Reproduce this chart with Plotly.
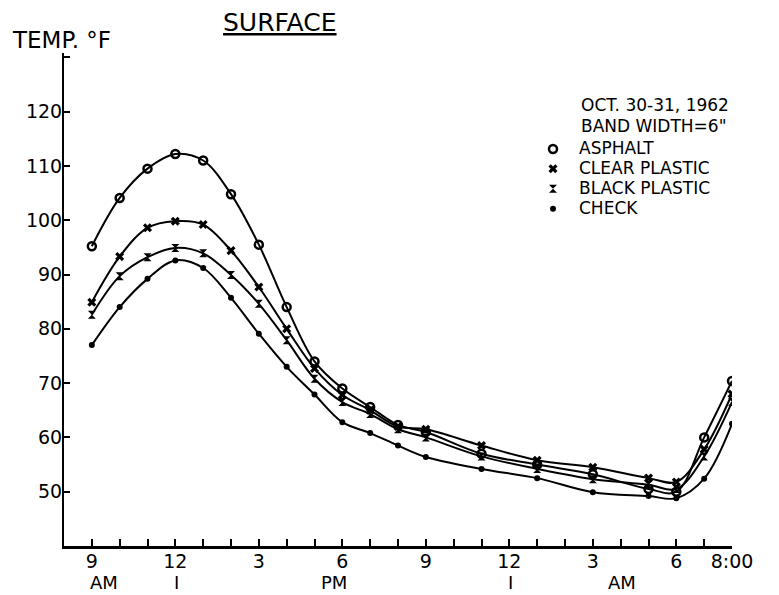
import plotly.graph_objects as go

hours = [9, 10, 11, 12, 13, 14, 15, 16, 17, 18, 19, 20, 21, 23, 25, 27, 29, 30, 31, 32]
asphalt = [95.2, 104.1, 109.5, 112.2, 111.0, 104.8, 95.5, 84.0, 74.0, 69.0, 65.6, 62.3, 61.0, 57.0, 55.0, 53.2, 50.5, 50.0, 60.0, 70.4]
clear_plastic = [84.9, 93.3, 98.6, 99.8, 99.2, 94.4, 87.7, 80.0, 72.7, 67.8, 65.0, 62.0, 61.5, 58.5, 55.8, 54.5, 52.5, 51.8, 57.8, 68.0]
black_plastic = [82.6, 89.7, 93.2, 94.9, 93.9, 89.9, 84.6, 77.9, 70.8, 66.5, 64.3, 61.5, 60.0, 56.5, 54.2, 52.3, 51.3, 50.5, 56.5, 66.5]
check = [77.0, 84.0, 89.2, 92.6, 91.2, 85.7, 79.1, 73.0, 67.9, 62.8, 60.8, 58.5, 56.4, 54.2, 52.5, 49.9, 49.2, 48.8, 52.4, 62.5]

series_names = ["ASPHALT", "CLEAR PLASTIC", "BLACK PLASTIC", "CHECK"]

x_tickvals = list(range(9, 33))
x_labels = {9: "9", 12: "12", 15: "3", 18: "6", 21: "9", 24: "12", 27: "3", 30: "6", 32: "8:00"}
x_ticktext = [x_labels.get(h, "") for h in x_tickvals]
y_tickvals = [50, 60, 70, 80, 90, 100, 110, 120, 130]
y_ticktext = ["50", "60", "70", "80", "90", "100", "110", "120", ""]

second_row = [(9.45, "AM"), (12.05, "I"), (17.7, "PM"), (24.05, "I"), (28.05, "AM")]

FONT = "DejaVu Sans"
markers = [
    dict(symbol="circle-open", size=8, color="black", line=dict(width=2.5, color="black")),
    dict(symbol="x", size=8, color="black", line=dict(width=0)),
    dict(symbol="hourglass", size=8, color="black", line=dict(width=0)),
    dict(symbol="circle", size=6, color="black", line=dict(width=0)),
]

fig = go.Figure()
for name, vals, mk in zip(series_names, [asphalt, clear_plastic, black_plastic, check], markers):
    fig.add_trace(go.Scatter(
        x=hours, y=vals, mode="lines+markers", name=name, showlegend=False,
        line=dict(color="black", width=2, shape="spline", smoothing=1.0),
        marker=mk,
    ))
for name, mk in zip(series_names, markers):
    fig.add_trace(go.Scatter(x=[None], y=[None], mode="markers",
                             name='<span style="font-size:17px">' + name + '</span>',
                             marker=mk, showlegend=True))

annotations = [
    dict(text="TEMP. °F", xref="paper", yref="paper", x=(10 - 64) / 668, y=(546 - 40) / 493,
         xanchor="left", yanchor="middle", showarrow=False, font=dict(size=23, family=FONT, color="black")),
    dict(text="<u>SURFACE</u>", xref="paper", yref="paper", x=(280 - 64) / 668, y=(546 - 22) / 493,
         xanchor="center", yanchor="middle", showarrow=False, font=dict(size=25, family=FONT, color="black")),
    dict(text="OCT. 30-31, 1962", xref="paper", yref="paper", x=(579 - 64) / 668, y=(546 - 105) / 493,
         xanchor="left", yanchor="middle", showarrow=False, font=dict(size=17, family=FONT, color="black")),
    dict(text="BAND WIDTH=6\"", xref="paper", yref="paper", x=(579 - 64) / 668, y=(546 - 126) / 493,
         xanchor="left", yanchor="middle", showarrow=False, font=dict(size=17, family=FONT, color="black")),
]
for xv, t in second_row:
    annotations.append(dict(text=t, xref="x", yref="paper", x=xv, y=0, yshift=-36,
                            xanchor="center", yanchor="middle", showarrow=False,
                            font=dict(size=18, family=FONT, color="black")))

fig.update_layout(
    width=771, height=587,
    margin=dict(l=56, r=47, t=45, b=49),
    paper_bgcolor="white", plot_bgcolor="white",
    font=dict(family=FONT, color="black"),
    showlegend=True,
    legend=dict(x=(527 - 64) / 668, y=(546 - 134) / 493, xanchor="left", yanchor="top",
                font=dict(size=13, family=FONT, color="black"), itemwidth=42,
                bgcolor="rgba(0,0,0,0)", tracegroupgap=0),
    xaxis=dict(range=[8, 32], tickmode="array", tickvals=x_tickvals, ticktext=x_ticktext,
               showline=True, linecolor="black", linewidth=3, ticks="inside", ticklen=7,
               tickwidth=2, tickcolor="black", showgrid=False, zeroline=False,
               ticklabelstandoff=-4,
               tickfont=dict(size=19, family=FONT, color="black")),
    yaxis=dict(range=[40, 130.8], tickmode="array", tickvals=y_tickvals, ticktext=y_ticktext,
               showline=True, linecolor="black", linewidth=2, ticks="inside", ticklen=6,
               tickwidth=2, tickcolor="black", showgrid=False, zeroline=False,
               ticklabelstandoff=-4,
               tickfont=dict(size=19, family=FONT, color="black")),
    annotations=annotations,
)

fig.write_html("out.html")
